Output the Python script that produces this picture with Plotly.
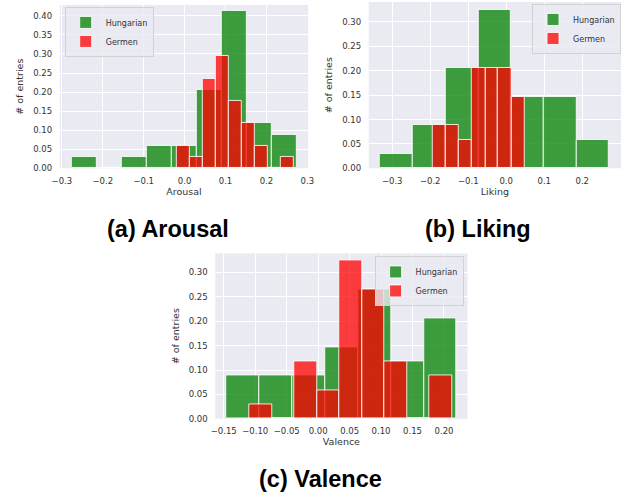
import plotly.graph_objects as go

# ---------------- data (bin edges and fraction of entries) ----------------
arousal_hu_edges = [-0.276, -0.215, -0.154, -0.093, -0.032, 0.030, 0.091, 0.152, 0.213, 0.274]
arousal_hu_vals = [0.029, 0.0, 0.029, 0.059, 0.059, 0.206, 0.412, 0.118, 0.088]
arousal_de_edges = [-0.019, 0.013, 0.044, 0.076, 0.108, 0.139, 0.171, 0.203, 0.234, 0.266]
arousal_de_vals = [0.059, 0.029, 0.235, 0.294, 0.176, 0.118, 0.059, 0.0, 0.029]

liking_hu_edges = [-0.332, -0.246, -0.159, -0.073, 0.013, 0.099, 0.185, 0.271]
liking_hu_vals = [0.029, 0.088, 0.206, 0.324, 0.147, 0.147, 0.059]
liking_de_edges = [-0.194, -0.159, -0.124, -0.090, -0.055, -0.021, 0.014, 0.048]
liking_de_vals = [0.088, 0.088, 0.059, 0.206, 0.206, 0.206, 0.147]

valence_hu_edges = [-0.146, -0.094, -0.041, 0.011, 0.063, 0.116, 0.168, 0.220]
valence_hu_vals = [0.088, 0.088, 0.088, 0.147, 0.265, 0.118, 0.206]
valence_de_edges = [-0.109, -0.073, -0.038, -0.002, 0.034, 0.070, 0.105, 0.141, 0.177, 0.213]
valence_de_vals = [0.029, 0.0, 0.118, 0.059, 0.324, 0.265, 0.118, 0.0, 0.088]

series_names = ["Hungarian", "Germen"]
panel_titles = ["(a) Arousal", "(b) Liking", "(c) Valence"]
axis_titles = ["Arousal", "Liking", "Valence"]
y_title = "# of entries"

arousal_xticks = [-0.3, -0.2, -0.1, 0.0, 0.1, 0.2, 0.3]
arousal_xtext = ["\u22120.3", "\u22120.2", "\u22120.1", "0.0", "0.1", "0.2", "0.3"]
arousal_yticks = [0, 0.05, 0.10, 0.15, 0.20, 0.25, 0.30, 0.35, 0.40]
arousal_ytext = ["0.00", "0.05", "0.10", "0.15", "0.20", "0.25", "0.30", "0.35", "0.40"]

liking_xticks = [-0.3, -0.2, -0.1, 0.0, 0.1, 0.2]
liking_xtext = ["\u22120.3", "\u22120.2", "\u22120.1", "0.0", "0.1", "0.2"]
liking_yticks = [0, 0.05, 0.10, 0.15, 0.20, 0.25, 0.30]
liking_ytext = ["0.00", "0.05", "0.10", "0.15", "0.20", "0.25", "0.30"]

valence_xticks = [-0.15, -0.10, -0.05, 0.0, 0.05, 0.10, 0.15, 0.20]
valence_xtext = ["\u22120.15", "\u22120.10", "\u22120.05", "0.00", "0.05", "0.10", "0.15", "0.20"]
valence_yticks = liking_yticks
valence_ytext = liking_ytext

# ---------------- styling ----------------
W, H = 628, 502
GREEN = "rgba(0,128,0,0.75)"
RED = "rgba(255,0,0,0.75)"
BG = "#EAEAF2"
FONT = "DejaVu Sans"
TICK_COLOR = "#333333"


def bars(edges, vals, name, color, xa, ya, legend, show):
    centers = [(a + b) / 2 for a, b in zip(edges[:-1], edges[1:])]
    widths = [b - a for a, b in zip(edges[:-1], edges[1:])]
    return go.Bar(
        x=centers, y=vals, width=widths, name=name,
        marker=dict(color=color, line=dict(color="rgba(255,255,255,0.85)", width=1)),
        xaxis=xa, yaxis=ya, legend=legend, showlegend=show,
        hoverinfo="x+y",
    )


fig = go.Figure()
panels = [
    (arousal_hu_edges, arousal_hu_vals, arousal_de_edges, arousal_de_vals, "x", "y", "legend"),
    (liking_hu_edges, liking_hu_vals, liking_de_edges, liking_de_vals, "x2", "y2", "legend2"),
    (valence_hu_edges, valence_hu_vals, valence_de_edges, valence_de_vals, "x3", "y3", "legend3"),
]
for he, hv, de, dv, xa, ya, lg in panels:
    fig.add_trace(bars(he, hv, series_names[0], GREEN, xa, ya, lg, True))
    fig.add_trace(bars(de, dv, series_names[1], RED, xa, ya, lg, True))


def px_x(p):
    return p / W


def px_y(p):
    return 1 - p / H


def xaxis(dom, rng, tv, tt, title, anchor):
    return dict(
        domain=dom, range=rng, tickvals=tv, ticktext=tt, anchor=anchor,
        showgrid=True, gridcolor="white", gridwidth=1, zeroline=False,
        showline=False, ticks="outside", ticklen=4, tickcolor="rgba(0,0,0,0)",
        tickfont=dict(family=FONT, size=8.5, color=TICK_COLOR),
        title=dict(text=title, font=dict(family=FONT, size=9.5, color=TICK_COLOR), standoff=3),
        fixedrange=True,
    )


def yaxis(dom, rng, tv, tt, anchor):
    return dict(
        domain=dom, range=rng, tickvals=tv, ticktext=tt, anchor=anchor,
        showgrid=True, gridcolor="white", gridwidth=1, zeroline=False,
        showline=False, ticks="outside", ticklen=5, tickcolor="rgba(0,0,0,0)",
        tickfont=dict(family=FONT, size=8.5, color=TICK_COLOR),
        title=dict(text=y_title, font=dict(family=FONT, size=9.5, color=TICK_COLOR), standoff=7),
        fixedrange=True,
    )


legend_style = dict(
    bgcolor="rgba(234,234,242,0.8)", bordercolor="#d2d2d2", borderwidth=1,
    font=dict(family=FONT, size=8, color=TICK_COLOR), itemwidth=30,
    tracegroupgap=0, traceorder="normal",
)

fig.update_layout(
    width=W, height=H,
    margin=dict(l=0, r=0, t=0, b=0),
    paper_bgcolor="white", plot_bgcolor=BG,
    barmode="overlay", bargap=0,
    xaxis=xaxis([px_x(53), px_x(307)], [-0.305, 0.302], arousal_xticks, arousal_xtext, axis_titles[0], "y"),
    yaxis=yaxis([px_y(170), px_y(5)], [0, 0.4286], arousal_yticks, arousal_ytext, "x"),
    xaxis2=xaxis([px_x(369), px_x(627)], [-0.3616, 0.302], liking_xticks, liking_xtext, axis_titles[1], "y2"),
    yaxis2=yaxis([px_y(170), px_y(2)], [0, 0.341], liking_yticks, liking_ytext, "x2"),
    xaxis3=xaxis([px_x(212), px_x(470)], [-0.1635, 0.2374], valence_xticks, valence_xtext, axis_titles[2], "y3"),
    yaxis3=yaxis([px_y(423), px_y(256)], [0, 0.339], valence_yticks, valence_ytext, "x3"),
    legend=dict(x=px_x(58), y=px_y(7), xanchor="left", yanchor="top", **legend_style),
    legend2=dict(x=px_x(627), y=px_y(4), xanchor="right", yanchor="top", **legend_style),
    legend3=dict(x=px_x(466), y=px_y(259), xanchor="right", yanchor="top", **legend_style),
    showlegend=True,
)

title_pos = [(164, 231), (481, 231), (320, 484)]
for text, (xp, yp) in zip(panel_titles, title_pos):
    fig.add_annotation(
        x=px_x(xp), y=px_y(yp), xref="paper", yref="paper",
        text="<b>" + text + "</b>", showarrow=False,
        xanchor="center", yanchor="middle",
        font=dict(family="Liberation Sans", size=23.5, color="black"),
    )

fig.write_html("out.html")
